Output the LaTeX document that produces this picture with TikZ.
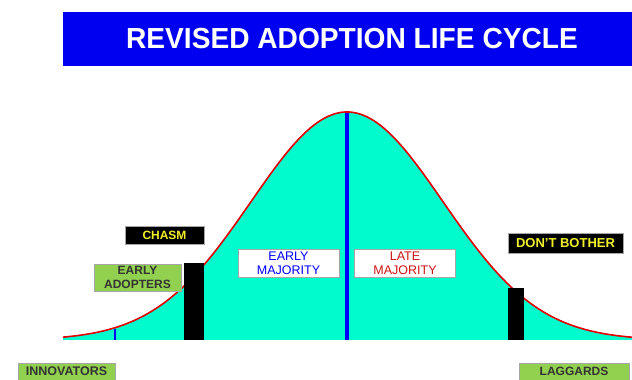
\documentclass[tikz,border=0pt]{standalone}
\usepackage{fontspec}
\setmainfont{Liberation Sans}
\definecolor{titleblue}{RGB}{0,0,240}
\definecolor{bellfill}{RGB}{0,252,205}
\definecolor{labelgreen}{RGB}{146,208,80}
\definecolor{latered}{RGB}{205,20,20}
\definecolor{chasmyellow}{RGB}{240,240,40}
\begin{document}
\begin{tikzpicture}[x=1pt,y=1pt,
		greenlab/.style={fill=labelgreen, draw=gray!70, text=black!80, align=center, inner sep=0pt, font=\bfseries\fontsize{12}{14}\selectfont},
		blacklab/.style={fill=black, draw=gray!70, text=chasmyellow, inner sep=0pt, font=\bfseries\fontsize{12}{14}\selectfont},
		whitelab/.style={fill=white, draw=gray!70, align=center, inner sep=0pt, minimum width=101pt, minimum height=28pt, font=\fontsize{12.5}{14}\selectfont}]
		\useasboundingbox (0,0) rectangle (632,380);
		\fill[titleblue] (63,314) rectangle (632,368);
		\node[text=white, font=\bfseries\fontsize{29}{30}\selectfont] (title) at (352,341) {\scalebox{0.97}[1]{REVISED ADOPTION LIFE CYCLE}};
		% bell curve
		\fill[bellfill] (63,40) -- plot[domain=63:632, samples=160] (\x,{40+228*exp(-0.5*((\x-347)/96)^2)}) -- (632,40) -- cycle;
		\draw[blue, line width=3.5pt] (347,40) -- (347,268);
		\draw[blue, line width=2.5pt] (115,40) -- (115,51);
		\draw[red!90!black, line width=1.6pt] plot[domain=63:632, samples=160] (\x,{40+228*exp(-0.5*((\x-347)/96)^2)});
		\fill[black] (184,40) rectangle (204,117);
		\fill[black] (508,40) rectangle (524,92);
		% labels
		\node[blacklab, minimum width=79pt, minimum height=18pt] (chasm) at (164.5,145) {CHASM};
		\node[greenlab, minimum width=87pt, minimum height=27pt] (adopters) at (137.5,102.5) {EARLY\\ADOPTERS};
		\node[greenlab, minimum width=97pt, minimum height=17pt, font=\bfseries\fontsize{12.5}{14}\selectfont] (innovators) at (66.5,8.5) {INNOVATORS};
		\node[blacklab, minimum width=115pt, minimum height=20pt, font=\bfseries\fontsize{13}{14}\selectfont] (bother) at (565.5,137) {DON'T BOTHER};
		\node[greenlab, minimum width=110pt, minimum height=17pt] (laggards) at (574,8.5) {LAGGARDS};
		\node[whitelab, text=blue] (early) at (288.5,117) {EARLY\\MAJORITY};
		\node[whitelab, text=latered] (late) at (405,117) {LATE\\MAJORITY};
	\end{tikzpicture}
\end{document}
